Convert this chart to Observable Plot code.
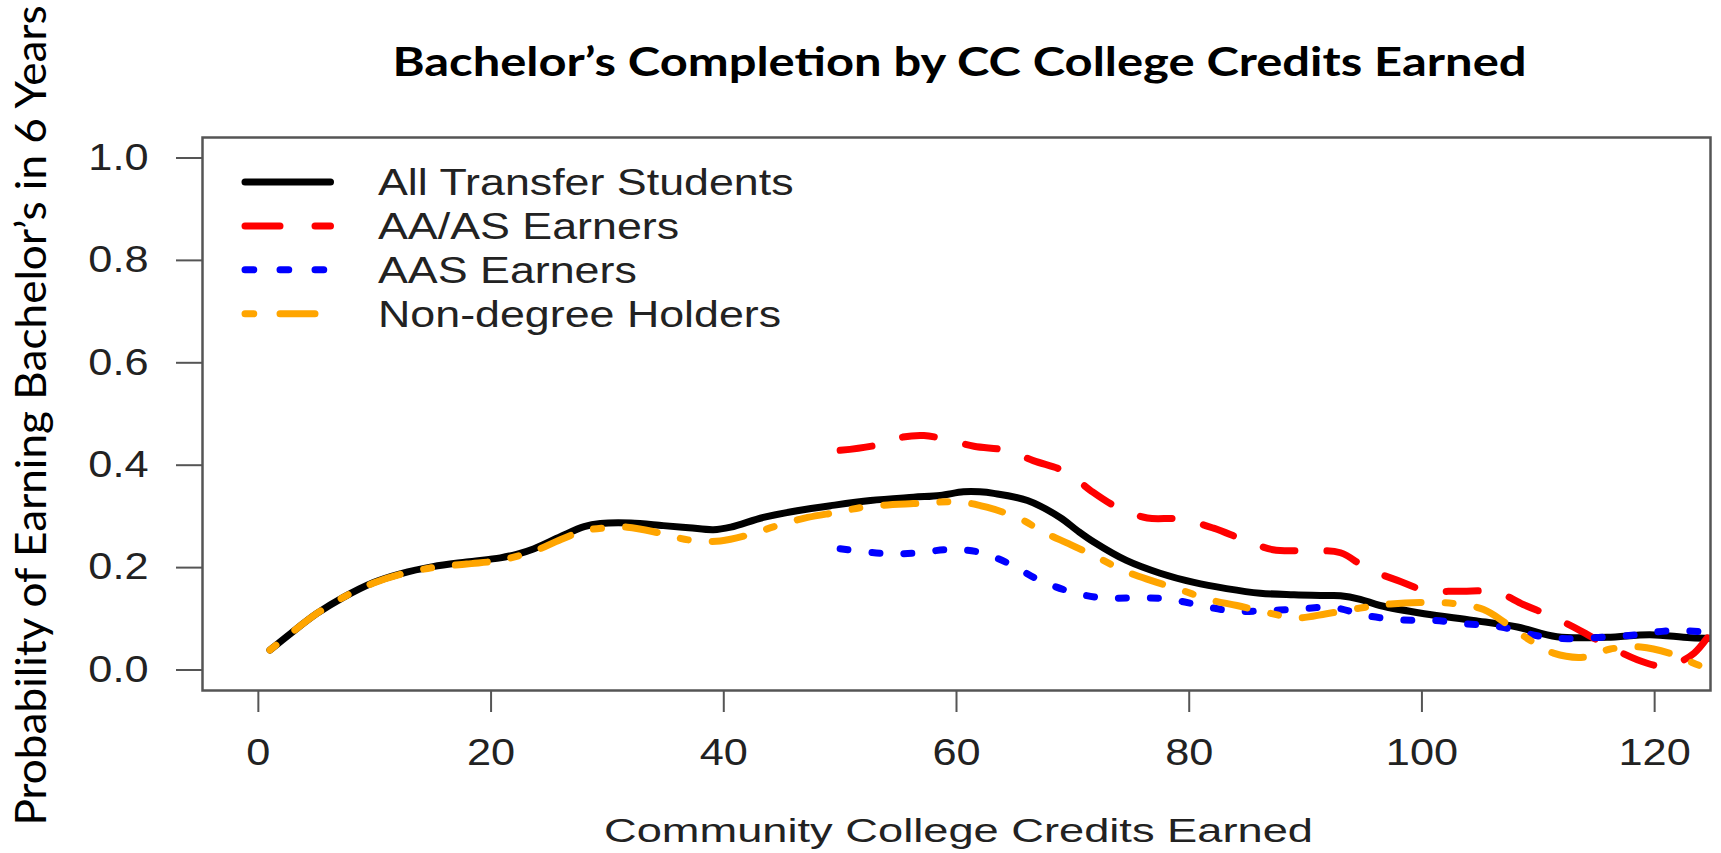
<!DOCTYPE html>
<html><head><meta charset="utf-8">
<script src="https://cdn.jsdelivr.net/npm/d3@7"></script>
<script src="https://cdn.jsdelivr.net/npm/@observablehq/plot@0.6"></script>
<style>
html,body{margin:0;padding:0;background:#fff;}
#wrap{position:relative;width:1721px;height:853px;overflow:hidden;}
#wrap svg.legend{position:absolute;left:0;top:0;pointer-events:none;}
</style></head><body><div id="wrap"></div>
<script>
// ---- text ----
const titleText = "Bachelor’s Completion by CC College Credits Earned";
const yLabelText = "Probability of Earning Bachelor’s in 6 Years";
const xLabelText = "Community College Credits Earned";

// ---- series ----
const seriesNames = ["All Transfer Students", "AA/AS Earners", "AAS Earners", "Non-degree Holders"];
const seriesColors = ["#000000", "#ff0000", "#0000ff", "#ffa500"];

// ---- ticks ----
const xTicks = [0, 20, 40, 60, 80, 100, 120];
const yTicks = [0, 0.2, 0.4, 0.6, 0.8, 1.0];

// ---- values ----
const allX = [1, 2.75, 5, 7.3, 9.9, 12.2, 15, 17.9, 20.8, 22.2, 23.7, 26, 28, 29.4, 32, 34.8, 37, 39.1, 40.6, 43.4, 46.3, 49.2, 52.6, 56.3, 58.6, 60.6, 62, 63.2, 66.1, 68.9, 70.4, 71.8, 74.6, 77.5, 80.4, 83.2, 86.1, 89, 91.8, 93, 94.7, 96.4, 100.2, 104.4, 108.2, 111.6, 115.9, 119.6, 123.1, 126];
const allY = [0.039, 0.071, 0.110, 0.142, 0.171, 0.188, 0.202, 0.211, 0.219, 0.226, 0.237, 0.261, 0.280, 0.286, 0.287, 0.282, 0.278, 0.274, 0.279, 0.298, 0.311, 0.321, 0.331, 0.3375, 0.341, 0.348, 0.348, 0.345, 0.331, 0.298, 0.272, 0.250, 0.214, 0.189, 0.171, 0.159, 0.150, 0.147, 0.1455, 0.145, 0.138, 0.126, 0.110, 0.097, 0.084, 0.065, 0.064, 0.069, 0.063, 0.062];

const aaX = [50, 52.9, 55.4, 57.2, 58.8, 61.5, 64.3, 66.6, 69.5, 71.5, 73.8, 76.4, 79.2, 82.1, 84.7, 87.2, 90.1, 93, 95.3, 97.9, 100.4, 103.3, 106.4, 108.7, 111.3, 113.6, 115.9, 118.5, 120.5, 121.4, 123.4, 125.5];
const aaY = [0.429, 0.438, 0.455, 0.458, 0.452, 0.437, 0.429, 0.409, 0.386, 0.351, 0.318, 0.297, 0.295, 0.277, 0.254, 0.235, 0.233, 0.229, 0.198, 0.175, 0.155, 0.154, 0.152, 0.128, 0.103, 0.077, 0.048, 0.020, 0.007, 0.009, 0.033, 0.095];

const aasX = [50, 53.5, 56.3, 59.2, 61.8, 64.6, 66.9, 69.5, 72.4, 75.2, 78.1, 81, 83.8, 86.7, 89.6, 92.4, 95.3, 98.2, 101, 103.9, 106.8, 109.9, 112.5, 115.6, 118.5, 121.4, 124.5, 126];
const aasY = [0.237, 0.228, 0.228, 0.235, 0.231, 0.207, 0.178, 0.155, 0.141, 0.141, 0.139, 0.126, 0.115, 0.116, 0.1195, 0.122, 0.106, 0.098, 0.097, 0.090, 0.084, 0.067, 0.061, 0.064, 0.069, 0.077, 0.074, 0.072];

const ndX = [1, 2.75, 5, 7.3, 9.9, 12.2, 15, 17.9, 20.8, 22.2, 23.7, 26, 28, 29.1, 31.7, 34.6, 37, 39.7, 42.3, 44.6, 47.2, 49.7, 52.3, 56.3, 60.3, 62.6, 65.5, 67.5, 69.8, 72.1, 74.4, 76.7, 79.2, 81.8, 84.1, 86.7, 89.3, 91.8, 94.7, 97.3, 99.8, 102.7, 105.3, 107.3, 109.3, 111.3, 113.9, 116.2, 118.8, 121.4, 124.1, 126];
const ndY = [0.039, 0.071, 0.110, 0.142, 0.170, 0.187, 0.200, 0.207, 0.214, 0.222, 0.232, 0.255, 0.272, 0.276, 0.279, 0.267, 0.254, 0.252, 0.265, 0.282, 0.298, 0.308, 0.319, 0.325, 0.328, 0.318, 0.295, 0.269, 0.245, 0.220, 0.194, 0.175, 0.157, 0.137, 0.126, 0.112, 0.102, 0.110, 0.121, 0.129, 0.132, 0.130, 0.118, 0.090, 0.058, 0.033, 0.025, 0.041, 0.045, 0.032, 0.007, 0.0];

// ---- build tables ----
const seriesXs = [allX, aaX, aasX, ndX];
const seriesYs = [allY, aaY, aasY, ndY];
const tables = seriesXs.map((xs, i) => xs.map((x, j) => ({series: seriesNames[i], x, y: seriesYs[i][j]})));

const plotDash = [null, "32,32", "8,24", "8,24,32,24"];
const legendDash = [null, "35,35", "8.75,26.25", "8.75,26.25,35,26.25"];
const LW = 7;
const rFont = "'Liberation Sans', Arial, Helvetica, sans-serif";
const cFont = "Lato, 'Open Sans', sans-serif";

const lines = tables.map((t, i) => Plot.line(t, {
  x: "x", y: "y", stroke: seriesColors[i], strokeWidth: LW,
  strokeDasharray: plotDash[i] || undefined,
  strokeLinecap: "round", strokeLinejoin: "round",
  curve: "catmull-rom", clip: true
}));

const plot = Plot.plot({
  width: 1721, height: 853,
  marginLeft: 202, marginRight: 11, marginTop: 137, marginBottom: 163,
  style: {background: "#fff", fontFamily: rFont, color: "#222"},
  x: {domain: [-4.8, 124.8]},
  y: {domain: [-0.04, 1.04]},
  marks: [
    ...lines,
    Plot.frame({stroke: "#555", strokeWidth: 2.5}),
    Plot.axisX(xTicks, {tickSize: 22, tickPadding: 26, fontSize: 37, stroke: "#555", strokeWidth: 2, fill: "#222", label: null, tickFormat: d => String(d)}),
    Plot.axisY(yTicks, {tickSize: 26, tickPadding: 28, fontSize: 37, stroke: "#555", strokeWidth: 2, fill: "#222", label: null, tickFormat: d3.format(".1f")}),
    Plot.text([titleText], {text: d => d, frameAnchor: "top", lineAnchor: "bottom", textAnchor: "middle", dx: 3, dy: -62, fontSize: 40, fontWeight: "bold", fontFamily: cFont, fill: "#000"}),
    Plot.text([yLabelText], {text: d => d, frameAnchor: "left", lineAnchor: "bottom", textAnchor: "middle", rotate: -90, dx: -157, dy: 1.5, fontSize: 42, fontFamily: cFont, fill: "#000"}),
    Plot.text([xLabelText], {text: d => d, frameAnchor: "bottom", lineAnchor: "bottom", textAnchor: "middle", dx: 2, dy: 151, fontSize: 34, fontFamily: rFont, fill: "#222"})
  ]
});

const wrap = document.getElementById("wrap");
wrap.appendChild(plot);

// legend overlay
const leg = d3.create("svg").attr("class", "legend").attr("width", 1721).attr("height", 853);
seriesNames.forEach((name, i) => {
  const y = 182 + i * 43.9;
  const l = leg.append("line").attr("x1", 245).attr("x2", 330.5).attr("y1", y).attr("y2", y)
    .attr("stroke", seriesColors[i]).attr("stroke-width", LW).attr("stroke-linecap", "round");
  if (legendDash[i]) l.attr("stroke-dasharray", legendDash[i]);
  leg.append("text").attr("class", "legtext").attr("x", 378).attr("y", y).attr("dy", "0.36em")
    .attr("font-family", rFont).attr("font-size", 37).attr("fill", "#222").text(name);
});
wrap.appendChild(leg.node());

// horizontal stretch of the text, as in the reference
function stretch(nodes, k) {
  nodes.each(function () {
    const L = this.getComputedTextLength();
    this.setAttribute("textLength", L * k);
    this.setAttribute("lengthAdjust", "spacingAndGlyphs");
  });
}
function fixLen(content, L) {
  d3.select(plot).selectAll("text").filter(function () { return this.textContent === content; })
    .attr("textLength", L).attr("lengthAdjust", "spacingAndGlyphs");
}
const ps = d3.select(plot);
stretch(ps.selectAll('g[aria-label="x-axis tick label"] text, g[aria-label="y-axis tick label"] text'), 1.17);
fixLen(titleText, 1134);
fixLen(yLabelText, 820);
fixLen(xLabelText, 709);
stretch(d3.select(leg.node()).selectAll("text.legtext"), 1.21);
</script></body></html>
